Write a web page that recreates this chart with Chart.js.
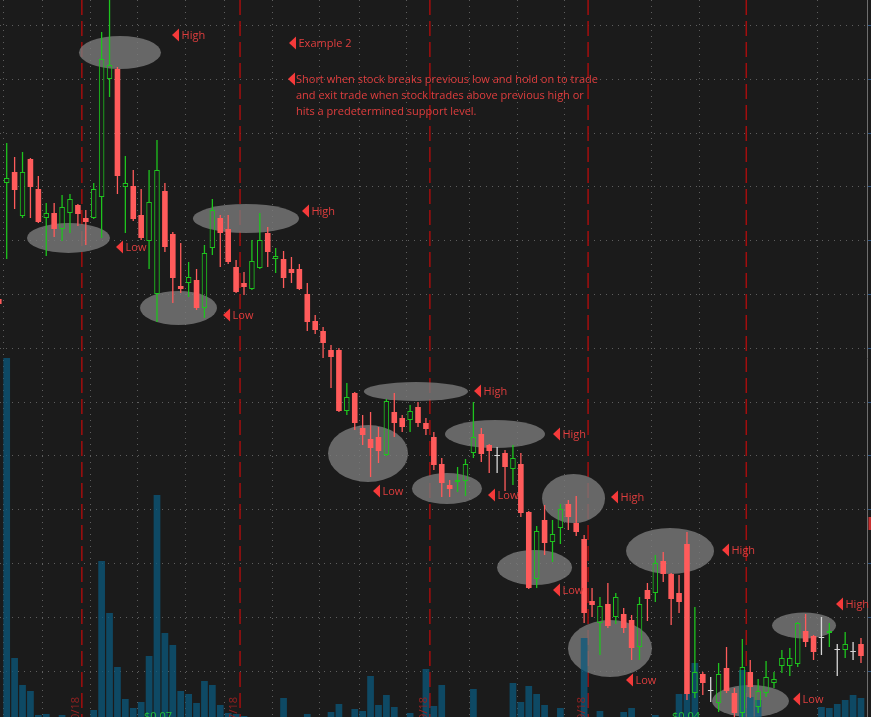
<!DOCTYPE html>
<html>
<head>
<meta charset="utf-8">
<script src="https://cdn.jsdelivr.net/npm/chart.js@4.4.1/dist/chart.umd.min.js"></script>
<style>
html,body{margin:0;padding:0;background:#1b1b1b;overflow:hidden}
#wrap{width:871px;height:717px;position:relative}
canvas{display:block}
</style>
</head>
<body>
<div id="wrap"><canvas id="c" width="871" height="717"></canvas></div>
<script>
// ---- data (one entry per daily bar) ----
const openP = [0.0701,0.0817,0.0828,0.0784,0.0841,0.0811,0.0782,0.0787,0.0771,0.0787,
0.0795,0.0782,0.0782,0.0803,0.0921,0.0931,0.0813,0.0814,0.0785,0.0759,
0.0706,0.0809,0.0766,0.0714,0.0717,0.0720,0.0692,0.0752,0.0782,0.0771,
0.0733,0.0717,0.0711,0.0732,0.0767,0.0741,0.0741,0.0731,0.0731,0.0706,
0.0679,0.0669,0.0650,0.0650,0.0589,0.0607,0.0572,0.0561,0.0563,0.0545,
0.0588,0.0582,0.0580,0.0593,0.0577,0.0563,0.0536,0.0515,0.0518,0.0519,
0.0547,0.0566,0.0555,0.0544,0.0547,0.0531,0.0536,0.0488,0.0421,0.0480,
0.0458,0.0472,0.0496,0.0477,0.0461,0.0399,0.0377,0.0396,0.0383,0.0386,
0.0380,0.0353,0.0410,0.0407,0.0439,0.0426,0.0407,0.0456,0.0307,0.0326,
0.0309,0.0297,0.0332,0.0307,0.0287,0.0328,0.0293,0.0307,0.0317,0.0334,
0.0334,0.0336,0.0369,0.0364,0.0362,0.0367,0.0350,0.0350,0.0348,0.0356];
const highP = [0.0703,0.0857,0.0843,0.0848,0.0842,0.0824,0.0797,0.0797,0.0805,0.0806,
0.0796,0.0790,0.0817,0.0968,0.1010,0.0933,0.0844,0.0830,0.0811,0.0830,
0.0860,0.0817,0.0768,0.0757,0.0738,0.0731,0.0755,0.0801,0.0785,0.0785,
0.0740,0.0728,0.0760,0.0787,0.0773,0.0752,0.0749,0.0743,0.0736,0.0717,
0.0685,0.0673,0.0655,0.0652,0.0617,0.0608,0.0585,0.0588,0.0573,0.0601,
0.0607,0.0585,0.0595,0.0598,0.0582,0.0568,0.0542,0.0520,0.0533,0.0541,
0.0598,0.0572,0.0556,0.0553,0.0550,0.0555,0.0547,0.0489,0.0474,0.0495,
0.0480,0.0496,0.0500,0.0504,0.0465,0.0412,0.0403,0.0417,0.0407,0.0392,
0.0385,0.0403,0.0417,0.0445,0.0448,0.0427,0.0425,0.0468,0.0393,0.0328,
0.0323,0.0337,0.0353,0.0312,0.0361,0.0340,0.0321,0.0339,0.0328,0.0350,
0.0352,0.0378,0.0386,0.0365,0.0383,0.0377,0.0356,0.0368,0.0358,0.0362];
const lowP = [0.0694,0.0741,0.0791,0.0782,0.0782,0.0777,0.0744,0.0763,0.0759,0.0767,
0.0774,0.0755,0.0781,0.0762,0.0903,0.0806,0.0767,0.0779,0.0760,0.0731,
0.0678,0.0748,0.0697,0.0707,0.0703,0.0690,0.0682,0.0745,0.0733,0.0736,
0.0707,0.0705,0.0710,0.0731,0.0733,0.0727,0.0712,0.0717,0.0710,0.0669,
0.0666,0.0642,0.0612,0.0588,0.0585,0.0570,0.0555,0.0523,0.0537,0.0544,
0.0563,0.0568,0.0568,0.0573,0.0565,0.0530,0.0503,0.0503,0.0508,0.0504,
0.0542,0.0538,0.0527,0.0527,0.0509,0.0515,0.0483,0.0411,0.0412,0.0445,
0.0438,0.0456,0.0470,0.0464,0.0377,0.0383,0.0345,0.0372,0.0376,0.0367,
0.0340,0.0340,0.0379,0.0398,0.0418,0.0375,0.0387,0.0300,0.0302,0.0305,
0.0298,0.0288,0.0307,0.0280,0.0280,0.0302,0.0287,0.0303,0.0312,0.0327,
0.0324,0.0333,0.0353,0.0340,0.0345,0.0353,0.0324,0.0342,0.0340,0.0337];
const closeP = [0.0696,0.0822,0.0810,0.0828,0.0813,0.0778,0.0787,0.0771,0.0793,0.0801,
0.0786,0.0778,0.0811,0.0941,0.0935,0.0824,0.0817,0.0781,0.0762,0.0798,
0.0830,0.0753,0.0722,0.0711,0.0723,0.0692,0.0747,0.0790,0.0767,0.0738,
0.0708,0.0713,0.0739,0.0760,0.0748,0.0744,0.0722,0.0727,0.0711,0.0678,
0.0670,0.0657,0.0643,0.0589,0.0603,0.0577,0.0565,0.0552,0.0549,0.0599,
0.0577,0.0573,0.0589,0.0577,0.0571,0.0535,0.0517,0.0511,0.0520,0.0536,
0.0563,0.0546,0.0549,0.0544,0.0533,0.0542,0.0487,0.0412,0.0469,0.0457,
0.0466,0.0491,0.0483,0.0468,0.0387,0.0395,0.0394,0.0374,0.0403,0.0372,
0.0352,0.0396,0.0401,0.0437,0.0426,0.0401,0.0398,0.0306,0.0328,0.0317,
0.0309,0.0326,0.0309,0.0287,0.0333,0.0313,0.0309,0.0323,0.0321,0.0342,
0.0342,0.0377,0.0358,0.0348,0.0362,0.0369,0.0350,0.0356,0.0348,0.0344];
// volume, millions of shares
const volume = [0,36.2,6.2,3.5,2.9,0.5,0.6,0.1,0.5,0.1,
0.1,0.1,1.0,15.9,10.7,5.3,2.1,1.2,1.8,6.4,
22.5,8.7,7.5,2.9,2.6,1.7,3.9,3.5,1.5,0.7,
0.6,0.4,0.1,0.1,0.1,0.1,2.2,0.1,0.1,0.6,
0.1,0.1,0.8,1.6,0.1,1.1,0.9,4.4,1.5,2.5,
1.3,0.1,0.7,0.1,5.1,1.4,3.5,0.1,0.1,0.1,
3.1,0.1,0.1,0.1,0.1,3.7,1.8,3.4,2.6,1.5,
0.1,1.2,0.1,0.1,8.2,0.1,0.9,0.1,0.1,0.8,
1.2,0.1,0.1,0.5,0.1,0.1,2.6,2.6,5.7,0.1,
0.1,0.1,0.1,0.1,5.0,2.3,2.0,0.1,0.1,0.1,
0.1,0.1,0.1,0.1,1.3,1.2,1.6,2.0,2.5,2.2];
// calendar boundaries, in bar-index units (between two bars)
const weekLines = [0.5,5.5,11.5,17.5,23.5,28.5,34.5,40.5,45.5,51.5,59.5,65.5,71.5,82.5,88.5,103.5];
const monthLines = [10.5,30.5,54.5,74.5,94.5];
const monthLabels = ["1/30/18","2/27/18","3/29/18","4/29/18"];
const priceGrid = [0.0975,0.0921,0.0867,0.0814,0.0760,0.0706,0.0652,0.0598,0.0545,0.0491,0.0437,0.0383,0.0329];
const priceTags = [{t:"$0.07", i:18.36}, {t:"$0.04", i:85.1}];

// ---- annotations (anchored on bar index / price) ----
const notes = [
  {t:"High", i:21.9, p:0.0965},
  {t:"Example 2", i:36.69, p:0.0957},
  {t:"Low", i:14.82, p:0.0753},
  {t:"High", i:38.33, p:0.0789},
  {t:"Low", i:28.35, p:0.0685},
  {t:"High", i:60.08, p:0.0609},
  {t:"Low", i:47.31, p:0.0509},
  {t:"High", i:70.06, p:0.0566},
  {t:"Low", i:61.85, p:0.0505},
  {t:"High", i:77.4, p:0.0503},
  {t:"Low", i:70.06, p:0.0410},
  {t:"High", i:91.43, p:0.0450},
  {t:"Low", i:79.29, p:0.0320},
  {t:"Low", i:100.41, p:0.0301},
  {t:"High", i:105.84, p:0.0396}
];
const paragraph = {i:36.56, p:0.0921, lines:[
  "Short when stock breaks previous low and hold on to trade",
  "and exit trade when stock trades above previous high or",
  "hits a predetermined support level."]};
const zones = [
  {i:15.32,p:0.09475,rx:41,ry:16.5},{i:8.81,p:0.0762,rx:41.5,ry:15},
  {i:22.72,p:0.0692,rx:38.5,ry:17},{i:31.25,p:0.07815,rx:53,ry:14.5},
  {i:52.74,p:0.06085,rx:52,ry:9.5},{i:46.68,p:0.05465,rx:40,ry:28.5},
  {i:56.66,p:0.05115,rx:35,ry:15.5},{i:62.73,p:0.0566,rx:50,ry:14},
  {i:72.66,p:0.05015,rx:31.5,ry:24.5},{i:67.73,p:0.04325,rx:37.5,ry:17.5},
  {i:84.86,p:0.0449,rx:44,ry:23},{i:77.27,p:0.03515,rx:42,ry:28.5},
  {i:95.03,p:0.0299,rx:38.5,ry:16},{i:101.8,p:0.03745,rx:32,ry:13}
];

// ---- styles ----
const BG = '#1b1b1b', UP = '#1ec41e', DOWN = '#ff5b5b', DOJI = '#d6d6d6';
const NOTE_TXT = '#e03e3e', NOTE_TRI = '#f53a3a';
const FONT = '11px "Open Sans", "DejaVu Sans", sans-serif';

const idx = openP.map((_, i) => i);
const dir = idx.map(i => closeP[i] > openP[i] ? 1 : (closeP[i] < openP[i] ? -1 : 0));
const col = idx.map(i => dir[i] > 0 ? UP : dir[i] < 0 ? DOWN : DOJI);

const deco = {
  id: 'deco',
  beforeDraw(chart) {
    const c = chart.ctx;
    c.save(); c.fillStyle = BG; c.fillRect(0, 0, chart.width, chart.height); c.restore();
  },
  beforeDatasetsDraw(chart) {
    const {ctx: c, chartArea: a, scales: {x, y}} = chart;
    c.save();
    c.lineWidth = 1;
    c.strokeStyle = '#5e5e5e';
    c.setLineDash([1, 5]);
    priceGrid.forEach(p => {
      const py = Math.round(y.getPixelForValue(p)) + 0.5;
      c.beginPath(); c.moveTo(a.left, py); c.lineTo(a.right, py); c.stroke();
    });
    weekLines.forEach(w => {
      const px = Math.round(x.getPixelForValue(w)) + 0.5;
      c.beginPath(); c.moveTo(px, 0); c.lineTo(px, chart.height); c.stroke();
    });
    c.setLineDash([15, 6]);
    c.strokeStyle = '#a30e0e';
    c.lineWidth = 1.5;
    monthLines.forEach(m => {
      const px = x.getPixelForValue(m);
      c.beginPath(); c.moveTo(px, 0); c.lineTo(px, chart.height); c.stroke();
    });
    c.setLineDash([]);
    c.fillStyle = 'rgba(124,124,124,0.78)';
    zones.forEach(z => {
      c.beginPath();
      c.ellipse(x.getPixelForValue(z.i), y.getPixelForValue(z.p), z.rx, z.ry, 0, 0, Math.PI * 2);
      c.fill();
    });
    // right price axis edge
    c.strokeStyle = '#6e6e6e'; c.lineWidth = 1;
    c.beginPath(); c.moveTo(a.right + 0.5, 0); c.lineTo(a.right + 0.5, chart.height); c.stroke();
    c.strokeStyle = '#2f5582';
    priceGrid.forEach(p => {
      const py = Math.round(y.getPixelForValue(p)) + 0.5;
      c.beginPath(); c.moveTo(a.right + 1, py); c.lineTo(chart.width, py); c.stroke();
    });
    c.fillStyle = '#c83030';
    c.fillRect(a.right + 1.5, y.getPixelForValue(0.0483), 3, 13);
    c.restore();
  },
  afterDatasetsDraw(chart) {
    const {ctx: c, scales: {x, y}} = chart;
    c.save();
    c.font = FONT;
    c.textBaseline = 'middle';
    const tri = (px, py) => {
      c.fillStyle = NOTE_TRI;
      c.beginPath(); c.moveTo(px, py); c.lineTo(px + 7, py - 6.5); c.lineTo(px + 7, py + 6.5); c.closePath(); c.fill();
    };
    notes.forEach(n => {
      const px = x.getPixelForValue(n.i), py = y.getPixelForValue(n.p);
      tri(px, py);
      c.fillStyle = NOTE_TXT; c.textAlign = 'left';
      c.fillText(n.t, px + 9.5, py + 0.5);
    });
    {
      const px = x.getPixelForValue(paragraph.i), py = y.getPixelForValue(paragraph.p);
      tri(px, py);
      c.fillStyle = NOTE_TXT;
      paragraph.lines.forEach((l, k) => c.fillText(l, px + 8, py + 0.5 + k * 16));
    }
    // month date labels (rotated, mostly below the visible edge)
    c.fillStyle = '#952222';
    monthLabels.forEach((t, k) => {
      const px = x.getPixelForValue(monthLines[k]) - 6;
      c.save(); c.translate(px, 697); c.rotate(-Math.PI / 2);
      c.textAlign = 'right'; c.textBaseline = 'middle';
      c.fillText(t, 0, 0); c.restore();
    });
    // price tags on the lower edge
    c.fillStyle = '#22c23a'; c.textAlign = 'left'; c.textBaseline = 'top';
    priceTags.forEach(p => c.fillText(p.t, x.getPixelForValue(p.i), 711));
    c.restore();
  }
};

const common = {grouped: false, inflateAmount: 0, borderSkipped: false};
new Chart(document.getElementById('c'), {
  type: 'bar',
  data: {
    datasets: [
      Object.assign({
        label: 'Body', order: 0, yAxisID: 'y',
        data: idx.map(i => ({x: i, y: [openP[i], closeP[i]]})),
        backgroundColor: idx.map(i => dir[i] > 0 ? 'rgba(0,0,0,0)' : col[i]),
        borderColor: col,
        borderWidth: idx.map(i => dir[i] > 0 ? 1 : 0),
        barThickness: 5.6, minBarLength: 1
      }, common),
      Object.assign({
        label: 'Upper wick', order: 1, yAxisID: 'y',
        data: idx.map(i => ({x: i, y: [Math.max(openP[i], closeP[i]), highP[i]]})),
        backgroundColor: col, borderWidth: 0, barThickness: 1.3
      }, common),
      Object.assign({
        label: 'Lower wick', order: 1, yAxisID: 'y',
        data: idx.map(i => ({x: i, y: [lowP[i], Math.min(openP[i], closeP[i])]})),
        backgroundColor: col, borderWidth: 0, barThickness: 1.3
      }, common),
      Object.assign({
        label: 'Volume', order: 3, yAxisID: 'v',
        data: idx.map(i => ({x: i, y: volume[i]})),
        backgroundColor: 'rgba(11,90,125,0.75)', borderWidth: 0, barThickness: 6.7
      }, common)
    ]
  },
  options: {
    responsive: false, animation: false, events: [],
    layout: {padding: {left: 0, right: 4, top: 0, bottom: 0}},
    plugins: {legend: {display: false}, tooltip: {enabled: false}},
    scales: {
      x: {type: 'linear', min: 0.153, max: 109.76, offset: false, display: false},
      y: {type: 'linear', min: 0.0283, max: 0.1000, display: false},
      v: {type: 'linear', min: 0.3, max: 72, display: false}
    }
  },
  plugins: [deco]
});
</script>
</body>
</html>
